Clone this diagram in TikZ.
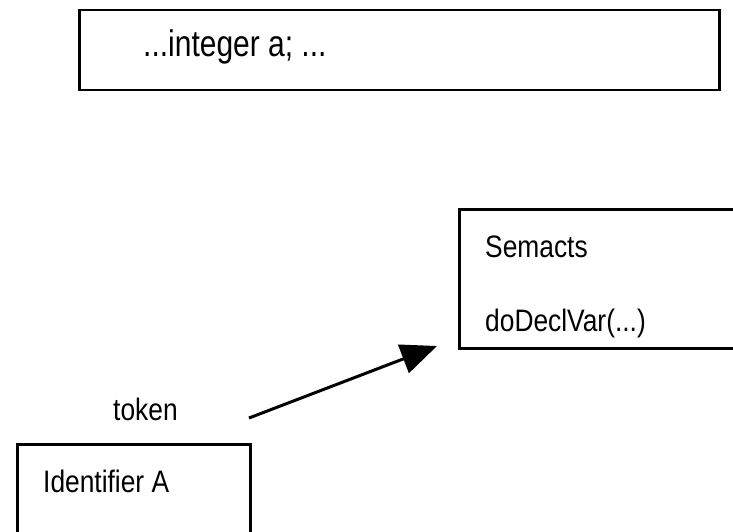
\documentclass[tikz,border=0pt]{standalone}
\usepackage{fontspec}
\setmainfont{Liberation Sans}[FakeStretch=0.85]
\newfontfamily\codefont{Liberation Sans}[FakeStretch=0.81]
\usepackage{tikz}
\usetikzlibrary{calc}
\usetikzlibrary{arrows.meta}
\usetikzlibrary{positioning}
\tikzset{
    box/.style    = {draw=black, line width=2.5pt, inner sep=0pt, anchor=north west},
    boxtext/.style= {inner sep=0pt, anchor=base west, font=\fontsize{31}{37}\selectfont},
    bigtext/.style= {inner sep=0pt, anchor=base west, font=\codefont\fontsize{37}{44}\selectfont},
    flow/.style   = {line width=3pt, -{Triangle[length=36pt,width=30pt]}}
}

\begin{document}
\begin{tikzpicture}[x=1pt, y=-1pt]
            \useasboundingbox (0,0) rectangle (733,532);
            \clip (0,0) rectangle (733,532);
            \fill[white] (0,0) rectangle (733,532);
            % source line
            \node[box, minimum width=640pt, minimum height=80pt] (src)  at ( 78,  9) {};
            \node[bigtext]                                       (code) at (143, 57) {...integer a; ...};
            % semantic actions
            \node[box, minimum width=320pt, minimum height=139pt] (sem)  at (458,208) {};
            \node[boxtext]                                        (semname) at (485,257) {Semacts};
            \node[boxtext]                                        (semcall) at (485,331) {doDeclVar(...)};
            % scanner token
            \node[box, minimum width=233pt, minimum height=130pt] (ident) at ( 16,443) {};
            \node[boxtext]                                        (idname) at ( 43,492) {Identifier A};
            \node[boxtext]                                        (tok)    at (113,420) {token};
            \coordinate (tokout) at (249,418);
            \coordinate (semin)  at (437,346);
            \draw[flow] (tokout) -- (semin);
        \end{tikzpicture}
\end{document}
